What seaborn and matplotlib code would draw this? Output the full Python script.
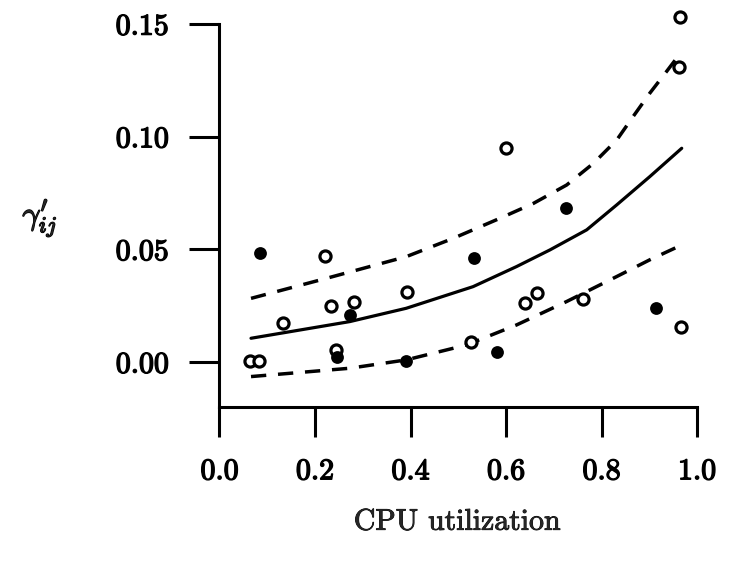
import matplotlib
matplotlib.use("Agg")
import matplotlib.pyplot as plt
import matplotlib.patheffects as pe
import seaborn as sns

# ---- data ----
open_x = [0.964, 0.962, 0.601, 0.220, 0.393, 0.233, 0.281, 0.134, 0.639, 0.665,
          0.762, 0.966, 0.526, 0.243, 0.064, 0.082]
open_y = [0.153, 0.131, 0.0948, 0.047, 0.0309, 0.0248, 0.0268, 0.0174, 0.0260, 0.0304,
          0.0279, 0.0157, 0.0090, 0.0053, 0.0004, 0.0004]

filled_x = [0.084, 0.725, 0.532, 0.273, 0.247, 0.391, 0.582, 0.915]
filled_y = [0.0482, 0.0682, 0.046, 0.0209, 0.0021, 0.0004, 0.0043, 0.0238]

fit_x = [0.066, 0.273, 0.391, 0.531, 0.622, 0.692, 0.769, 0.832, 0.901, 0.968]
fit_y = [0.0105, 0.0179, 0.0238, 0.0334, 0.0423, 0.0497, 0.0586, 0.0697, 0.0822, 0.0948]

upper_x = [0.066, 0.224, 0.391, 0.489, 0.587, 0.657, 0.727, 0.783, 0.832, 0.866,
           0.901, 0.936, 0.960]
upper_y = [0.0282, 0.0371, 0.0467, 0.0548, 0.0637, 0.0703, 0.0785, 0.0881, 0.0985, 0.1088,
           0.1192, 0.1288, 0.1355]

lower_x = [0.066, 0.273, 0.391, 0.517, 0.622, 0.727, 0.832, 0.901, 0.968]
lower_y = [-0.0065, -0.0028, 0.0009, 0.0075, 0.0164, 0.0268, 0.0379, 0.0453, 0.0519]

x_ticks = [0.0, 0.2, 0.4, 0.6, 0.8, 1.0]
x_tick_labels = ["0.0", "0.2", "0.4", "0.6", "0.8", "1.0"]
y_ticks = [0.00, 0.05, 0.10, 0.15]
y_tick_labels = ["0.00", "0.05", "0.10", "0.15"]

x_label = "CPU utilization"
y_label = r"$\gamma^{\prime}_{ij}$"

# ---- style ----
sns.set_style("ticks")
plt.rcParams["font.family"] = ["cmr10", "DejaVu Serif"]
plt.rcParams["mathtext.fontset"] = "cm"
plt.rcParams["axes.unicode_minus"] = False
plt.rcParams["axes.formatter.use_mathtext"] = True

W, H = 737, 571
fig = plt.figure(figsize=(W / 100, H / 100), dpi=100)
left_px, right_px, bottom_px, top_px = 219.5, 697, 407, 12.6
ax = fig.add_axes([left_px / W, 1 - bottom_px / H,
                   (right_px - left_px) / W, (bottom_px - top_px) / H])

lw = 2.5
dash = (0, (4.4, 3.4))
sns.lineplot(x=fit_x, y=fit_y, ax=ax, color="black", lw=2.3,
             sort=False, estimator=None, zorder=2)
sns.lineplot(x=upper_x, y=upper_y, ax=ax, color="black", lw=lw,
             sort=False, estimator=None, linestyle=dash, zorder=2)
sns.lineplot(x=lower_x, y=lower_y, ax=ax, color="black", lw=lw,
             sort=False, estimator=None, linestyle=dash, zorder=2)

sns.scatterplot(x=open_x, y=open_y, ax=ax, s=64, color="black",
                linewidth=2.3, zorder=3, clip_on=False)
coll_open = ax.collections[-1]
coll_open.set_facecolor("white")
coll_open.set_edgecolor("black")

sns.scatterplot(x=filled_x, y=filled_y, ax=ax, s=85, color="black",
                linewidth=0, zorder=4, clip_on=False)

ax.set_xlim(0.0, 1.0)
ax.set_ylim(-0.02, 0.155)

for s in ["top", "right"]:
    ax.spines[s].set_visible(False)
ax.spines["left"].set_bounds(-0.02, 0.15)
ax.spines["bottom"].set_bounds(0.0, 1.0)
for s in ["left", "bottom"]:
    ax.spines[s].set_linewidth(2.2)
    ax.spines[s].set_color("black")

ax.set_xticks(x_ticks)
ax.set_xticklabels(x_tick_labels)
ax.set_yticks(y_ticks)
ax.set_yticklabels(y_tick_labels)
ax.tick_params(axis="both", length=21.6, width=2.2, color="black",
               labelsize=21.5, pad=15, labelcolor="black")
ax.set_xlabel("")
ax.set_ylabel("")

bold = [pe.withStroke(linewidth=1.0, foreground="black")]
for t in ax.get_xticklabels() + ax.get_yticklabels():
    t.set_path_effects(bold)

fig.text(40 / W, 1 - 218 / H, y_label, fontsize=23, ha="center", va="center",
         path_effects=bold)
fig.text(457 / W, 1 - 522 / H, x_label, fontsize=21.5, ha="center", va="center",
         path_effects=[pe.withStroke(linewidth=0.6, foreground="black")])

fig.savefig("out.png", dpi=100)
